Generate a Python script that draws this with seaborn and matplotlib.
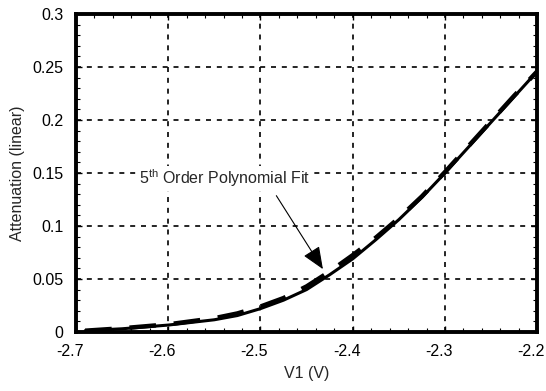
import matplotlib
matplotlib.use("Agg")
import matplotlib.pyplot as plt
import matplotlib.transforms as mtrans
import seaborn as sns
import pandas as pd
from matplotlib.ticker import MultipleLocator

v1 = [-2.69, -2.65, -2.60, -2.55, -2.525, -2.50, -2.475, -2.45, -2.425, -2.40,
      -2.375, -2.35, -2.325, -2.30, -2.275, -2.25, -2.225, -2.20]
measured = [0.0012, 0.003, 0.0065, 0.0115, 0.0155, 0.022, 0.030, 0.040, 0.054, 0.069,
            0.087, 0.106, 0.127, 0.150, 0.174, 0.198, 0.222, 0.246]
poly_fit = [0.0012, 0.0035, 0.0072, 0.0130, 0.0175, 0.0240, 0.032, 0.043, 0.057, 0.0725,
            0.089, 0.1075, 0.128, 0.151, 0.175, 0.199, 0.223, 0.246]

x_ticks = [-2.7, -2.6, -2.5, -2.4, -2.3, -2.2]
y_ticks = [0, 0.05, 0.1, 0.15, 0.2, 0.25, 0.3]
annot_text = "5$^{\\rm th}$ Order Polynomial Fit"

sns.set_style("ticks")
plt.rcParams['font.family'] = ['Liberation Sans', 'DejaVu Sans']
plt.rcParams['mathtext.fontset'] = 'custom'
plt.rcParams['mathtext.rm'] = 'Liberation Sans'

df = pd.DataFrame({"V1": v1, "measured": measured, "fit": poly_fit})

fig = plt.figure(figsize=(5.46, 3.91), dpi=100)
ax = fig.add_axes([0.139, 0.151, 0.845, 0.813])

sns.lineplot(data=df, x="V1", y="measured", ax=ax, color="black", lw=2.2)
sns.lineplot(data=df, x="V1", y="fit", ax=ax, color="black", lw=3.2,
             linestyle=(0, (6, 4)))

ax.set_xlim(-2.7, -2.2)
ax.set_ylim(0, 0.3)
ax.set_xticks(x_ticks)
ax.set_yticks(y_ticks)
ax.set_xticklabels([f"{t:g}" for t in x_ticks])
ax.set_yticklabels([f"{t:g}" for t in y_ticks])
ax.xaxis.set_minor_locator(MultipleLocator(0.02))
ax.yaxis.set_minor_locator(MultipleLocator(0.01))

ax.grid(True, which="major", color="black", linestyle=(0, (3, 3.5)), lw=1.2)
ax.set_axisbelow(True)

for s in ax.spines.values():
    s.set_linewidth(2.8)
    s.set_color("black")

fs = 11.5
ax.tick_params(axis="both", which="both", direction="in", top=True, right=True,
               color="black", labelsize=fs, labelcolor="black")
ax.tick_params(which="major", length=4, width=1, pad=9)
ax.tick_params(which="minor", length=3, width=0.8)

shift = mtrans.ScaledTranslation(-6 / 100, 0, fig.dpi_scale_trans)
for lab in ax.get_xticklabels():
    lab.set_transform(lab.get_transform() + shift)

ax.set_xlabel("V1 (V)", fontsize=fs, labelpad=5)
ax.set_ylabel("Attenuation (linear)", fontsize=fs, labelpad=5)

ax.annotate(annot_text, xy=(-2.4323, 0.0593), xytext=(-2.539, 0.1448),
            ha="center", va="center", fontsize=fs,
            bbox=dict(boxstyle="square,pad=0.1", fc="white", ec="none"),
            arrowprops=dict(arrowstyle="-|>,head_length=1.2,head_width=0.5",
                            color="black", lw=0.8, shrinkA=4, shrinkB=0,
                            relpos=(0.78, 0.0)))

fig.savefig("out.png", dpi=100)
